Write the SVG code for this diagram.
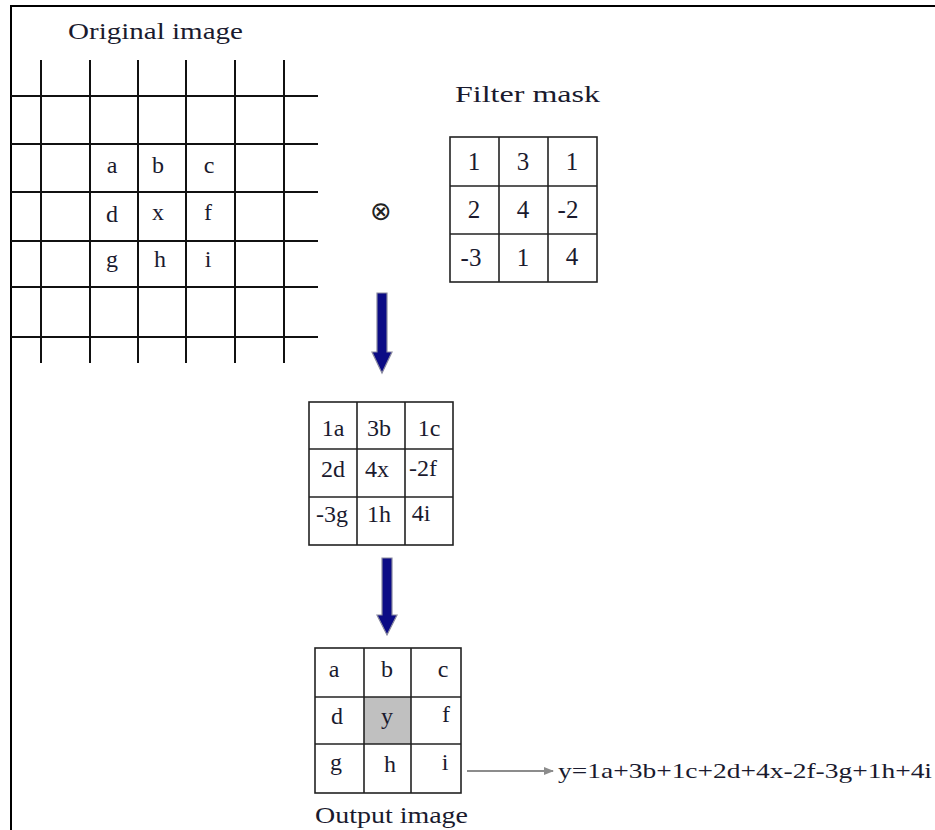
<svg xmlns="http://www.w3.org/2000/svg" width="935" height="830" viewBox="0 0 935 830">
<style>
  .t{font-family:"Liberation Serif","DejaVu Serif",serif;fill:#1a1a2e;}
  .lbl{font-size:23px;}
  .cell{font-size:24px;text-anchor:middle;}
  .num{font-size:25px;}
  .grid{stroke:#111;stroke-width:2;fill:none;}
  .tbl{stroke:#222;stroke-width:1.6;fill:none;}
  .arrow{fill:#0b0b85;stroke:#8a8aa0;stroke-width:1.2;}
</style>
<defs>
  <marker id="gh" markerWidth="10" markerHeight="8" refX="9" refY="4" orient="auto" markerUnits="userSpaceOnUse">
    <path d="M0,0 L10,4 L0,8 z" fill="#8c8c8c"/>
  </marker>
</defs>
<rect width="935" height="830" fill="#fff"/>
<g id="frame">
  <line x1="10" y1="6" x2="935" y2="6" stroke="#000" stroke-width="2"/>
  <line x1="11" y1="6" x2="11" y2="830" stroke="#000" stroke-width="2"/>
</g>

<g id="original-image">
  <text class="t lbl" x="68" y="39" textLength="175" lengthAdjust="spacingAndGlyphs">Original image</text>
  <g class="grid">
    <line x1="41" y1="60" x2="41" y2="363"/>
    <line x1="90" y1="60" x2="90" y2="363"/>
    <line x1="138" y1="60" x2="138" y2="363"/>
    <line x1="186" y1="60" x2="186" y2="363"/>
    <line x1="235" y1="60" x2="235" y2="363"/>
    <line x1="284" y1="60" x2="284" y2="363"/>
    <line x1="11" y1="96" x2="318" y2="96"/>
    <line x1="11" y1="144" x2="318" y2="144"/>
    <line x1="11" y1="192" x2="318" y2="192"/>
    <line x1="11" y1="241" x2="318" y2="241"/>
    <line x1="11" y1="287" x2="318" y2="287"/>
    <line x1="11" y1="337" x2="318" y2="337"/>
  </g>
  <g class="t cell">
    <text x="112" y="173">a</text><text x="158" y="173">b</text><text x="209" y="173">c</text>
    <text x="112" y="222">d</text><text x="158" y="220">x</text><text x="208" y="220">f</text>
    <text x="112" y="267">g</text><text x="160" y="267">h</text><text x="208" y="267">i</text>
  </g>
</g>

<g id="operator">
  <text x="381" y="220" font-family="DejaVu Sans,sans-serif" font-size="26" text-anchor="middle" fill="#222">⊗</text>
</g>

<g id="filter-mask">
  <text class="t lbl" x="455" y="102" textLength="145" lengthAdjust="spacingAndGlyphs">Filter mask</text>
  <rect class="tbl" x="450" y="137" width="147" height="145"/>
  <g class="tbl">
    <line x1="499" y1="137" x2="499" y2="282"/>
    <line x1="548" y1="137" x2="548" y2="282"/>
    <line x1="450" y1="186" x2="597" y2="186"/>
    <line x1="450" y1="234" x2="597" y2="234"/>
  </g>
  <g class="t cell num">
    <text x="474" y="170">1</text><text x="523" y="170">3</text><text x="572" y="170">1</text>
    <text x="474" y="218">2</text><text x="523" y="218">4</text><text x="568" y="218">-2</text>
    <text x="471" y="266">-3</text><text x="523" y="266">1</text><text x="572" y="265">4</text>
  </g>
</g>

<g id="products">
  <rect class="tbl" x="309" y="402" width="144" height="143"/>
  <g class="tbl">
    <line x1="357" y1="402" x2="357" y2="545"/>
    <line x1="405" y1="402" x2="405" y2="545"/>
    <line x1="309" y1="449" x2="453" y2="449"/>
    <line x1="309" y1="497" x2="453" y2="497"/>
  </g>
  <g class="t cell">
    <text x="333" y="436">1a</text><text x="379" y="436">3b</text><text x="429" y="436">1c</text>
    <text x="333" y="477">2d</text><text x="377" y="477">4x</text><text x="423" y="476">-2f</text>
    <text x="332" y="522">-3g</text><text x="379" y="522">1h</text><text x="421" y="521">4i</text>
  </g>
</g>

<g id="output-image">
  <rect x="364" y="697" width="47" height="47" fill="#c0c0c0"/>
  <rect class="tbl" x="315" y="648" width="146" height="145"/>
  <g class="tbl">
    <line x1="364" y1="648" x2="364" y2="793"/>
    <line x1="411" y1="648" x2="411" y2="793"/>
    <line x1="315" y1="697" x2="461" y2="697"/>
    <line x1="315" y1="744" x2="461" y2="744"/>
  </g>
  <g class="t cell">
    <text x="334" y="677">a</text><text x="387" y="677">b</text><text x="443" y="677">c</text>
    <text x="337" y="724">d</text><text x="387" y="724">y</text><text x="446" y="722">f</text>
    <text x="336" y="770">g</text><text x="390" y="772">h</text><text x="445" y="770">i</text>
  </g>
  <text class="t lbl" x="315" y="823" textLength="153" lengthAdjust="spacingAndGlyphs">Output image</text>
</g>

<g id="equation">
  <text class="t" x="558" y="778" font-size="21" textLength="374" lengthAdjust="spacingAndGlyphs">y=1a+3b+1c+2d+4x-2f-3g+1h+4i</text>
</g>

<g id="connectors">
  <path class="arrow" d="M377,293 H387 V352 H392 L382,373 L372,352 H377 Z"/>
  <path class="arrow" d="M382,558 H392 V615 H397 L387,635 L377,615 H382 Z"/>
  <line x1="467" y1="771" x2="553" y2="771" stroke="#8c8c8c" stroke-width="2" marker-end="url(#gh)"/>
</g>
</svg>
